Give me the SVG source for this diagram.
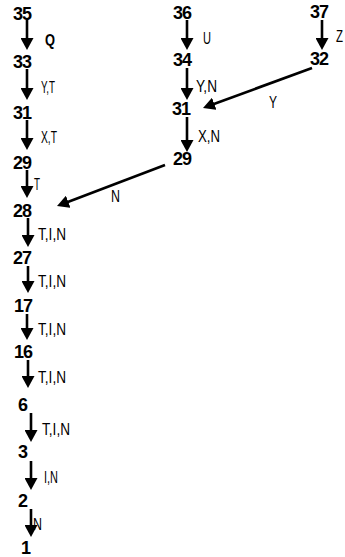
<svg xmlns="http://www.w3.org/2000/svg" width="345" height="557" viewBox="0 0 345 557">
<defs>
<marker id="ah" viewBox="0 0 12 13" refX="4" refY="6.5" markerWidth="12" markerHeight="13" markerUnits="userSpaceOnUse" orient="auto">
<path d="M0,0 L12,6.5 L0,13 z" fill="#000"/>
</marker>
<style>
.n{font-family:"Liberation Sans","DejaVu Sans",sans-serif;font-weight:bold;font-size:18px;letter-spacing:-1px;fill:#000}
.l{font-family:"Liberation Sans","DejaVu Sans",sans-serif;font-size:16px;fill:#000}
.e{stroke:#000;stroke-width:2.6;fill:none;marker-end:url(#ah)}
</style>
</defs>
<rect width="345" height="557" fill="#fff"/>
<g id="connectors">
<line class="e" x1="27" y1="20" x2="27" y2="42"/>
<line class="e" x1="27" y1="69" x2="27" y2="92"/>
<line class="e" x1="27" y1="120" x2="27" y2="142"/>
<line class="e" x1="27" y1="170" x2="27" y2="190"/>
<line class="e" x1="28" y1="218" x2="28" y2="239"/>
<line class="e" x1="28" y1="266" x2="28" y2="285"/>
<line class="e" x1="27" y1="314" x2="27" y2="332"/>
<line class="e" x1="28" y1="360" x2="28" y2="380"/>
<line class="e" x1="31" y1="413" x2="31" y2="434"/>
<line class="e" x1="31" y1="461" x2="31" y2="482"/>
<line class="e" x1="31" y1="509" x2="31" y2="529"/>
<line class="e" x1="187" y1="20" x2="187" y2="42"/>
<line class="e" x1="187" y1="68" x2="187" y2="92"/>
<line class="e" x1="187" y1="117" x2="187" y2="144"/>
<line class="e" x1="322" y1="20" x2="322" y2="42"/>
<line class="e" x1="312" y1="68" x2="210.5" y2="105.2"/>
<line class="e" x1="165" y1="165" x2="64.5" y2="203.2"/>
<text class="l" x="45" y="46" font-weight="bold" textLength="10" lengthAdjust="spacingAndGlyphs">Q</text>
<text class="l" x="41" y="93" textLength="14" lengthAdjust="spacingAndGlyphs">Y,T</text>
<text class="l" x="41" y="143" textLength="16" lengthAdjust="spacingAndGlyphs">X,T</text>
<text class="l" x="34" y="190" textLength="6" lengthAdjust="spacingAndGlyphs">T</text>
<text class="l" x="38" y="240" textLength="28" lengthAdjust="spacingAndGlyphs">T,I,N</text>
<text class="l" x="38" y="287" textLength="28" lengthAdjust="spacingAndGlyphs">T,I,N</text>
<text class="l" x="38" y="335" textLength="28" lengthAdjust="spacingAndGlyphs">T,I,N</text>
<text class="l" x="38" y="383" textLength="28" lengthAdjust="spacingAndGlyphs">T,I,N</text>
<text class="l" x="42" y="435" textLength="28" lengthAdjust="spacingAndGlyphs">T,I,N</text>
<text class="l" x="44" y="483" textLength="14" lengthAdjust="spacingAndGlyphs">I,N</text>
<text class="l" x="33" y="530" textLength="9" lengthAdjust="spacingAndGlyphs">N</text>
<text class="l" x="203" y="44" textLength="8" lengthAdjust="spacingAndGlyphs">U</text>
<text class="l" x="196" y="92" textLength="21" lengthAdjust="spacingAndGlyphs">Y,N</text>
<text class="l" x="198" y="142" textLength="22" lengthAdjust="spacingAndGlyphs">X,N</text>
<text class="l" x="336" y="42" textLength="7" lengthAdjust="spacingAndGlyphs">Z</text>
<text class="l" x="269" y="108" textLength="8" lengthAdjust="spacingAndGlyphs">Y</text>
<text class="l" x="111" y="202" textLength="9" lengthAdjust="spacingAndGlyphs">N</text>
</g>
<g id="n35"><text class="n" x="13" y="20">35</text></g>
<g id="n33"><text class="n" x="13" y="68">33</text></g>
<g id="n31a"><text class="n" x="13" y="119">31</text></g>
<g id="n29a"><text class="n" x="13" y="169">29</text></g>
<g id="n28"><text class="n" x="13" y="217">28</text></g>
<g id="n27"><text class="n" x="13" y="264">27</text></g>
<g id="n17"><text class="n" x="14" y="312">17</text></g>
<g id="n16"><text class="n" x="14" y="358">16</text></g>
<g id="n6"><text class="n" x="18" y="411">6</text></g>
<g id="n3"><text class="n" x="18" y="458">3</text></g>
<g id="n2"><text class="n" x="18" y="507">2</text></g>
<g id="n1"><text class="n" x="21" y="554">1</text></g>
<g id="n36"><text class="n" x="173" y="19">36</text></g>
<g id="n34"><text class="n" x="173" y="66">34</text></g>
<g id="n31b"><text class="n" x="172" y="115">31</text></g>
<g id="n29b"><text class="n" x="173" y="165">29</text></g>
<g id="n37"><text class="n" x="310" y="18">37</text></g>
<g id="n32"><text class="n" x="310" y="65">32</text></g>
</svg>
